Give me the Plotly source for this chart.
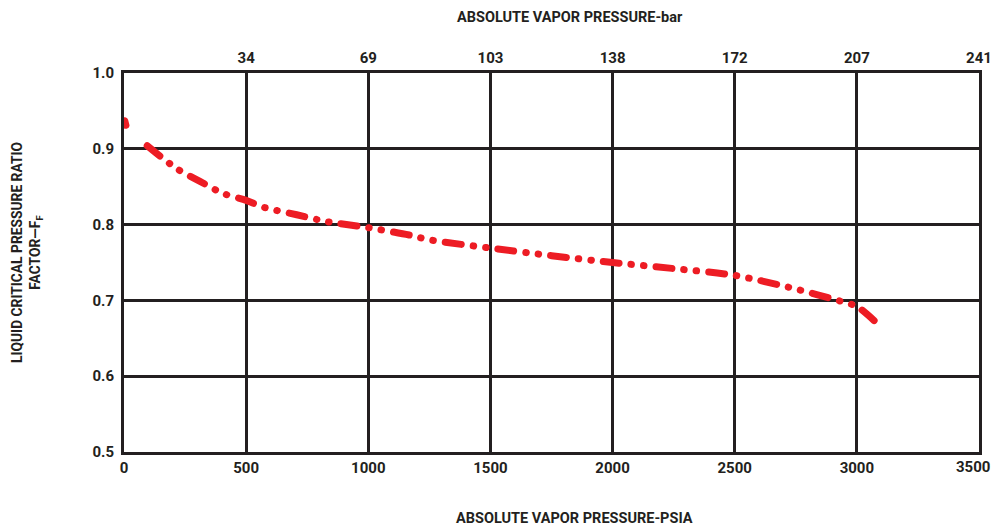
import plotly.graph_objects as go

# Main curve (absolute vapor pressure in psia vs F_F)
psia = [95, 215, 311, 407, 500, 570, 707, 829, 1000, 1171, 1250, 1500, 1750,
        2000, 2250, 2500, 2750, 2943, 3000, 3095]
ff = [0.904, 0.874, 0.857, 0.841, 0.832, 0.823, 0.813, 0.804, 0.796, 0.786, 0.780,
      0.769, 0.759, 0.750, 0.742, 0.733, 0.715, 0.698, 0.692, 0.666]

# Isolated start mark near the y axis
start_psia = [3, 8]
start_ff = [0.937, 0.931]

x_ticks = [0, 500, 1000, 1500, 2000, 2500, 3000, 3500]
bar_tickvals = [500, 1000, 1500, 2000, 2500, 3000, 3500]
bar_ticktext = ["34", "69", "103", "138", "172", "207", "241"]
y_ticks = [0.5, 0.6, 0.7, 0.8, 0.9, 1.0]

RED = "#ED1C24"
DARK = "#231F20"
TICKFONT = "Roboto, Liberation Sans, sans-serif"
TITLEFONT = "Roboto, Liberation Sans, sans-serif"

tickfont = dict(family=TICKFONT, size=15, color=DARK, weight="bold")

# last bottom label is placed as an annotation so it stays inside the page
x_ticktext = [str(v) for v in x_ticks[:-1]] + [""]

fig = go.Figure()
fig.add_trace(go.Scatter(
    x=psia, y=ff, mode="lines",
    line=dict(color=RED, width=7, shape="spline", smoothing=0.8,
              dash="16px,12px,0.5px,12px,0.5px,12px"),
    hoverinfo="skip", showlegend=False))
fig.add_trace(go.Scatter(
    x=start_psia, y=start_ff, mode="lines",
    line=dict(color=RED, width=7),
    hoverinfo="skip", showlegend=False))
# invisible trace on top axis
fig.add_trace(go.Scatter(x=[0, 3500], y=[0.5, 0.5], xaxis="x2", mode="lines",
                         line=dict(width=0), opacity=0, hoverinfo="skip",
                         showlegend=False))

fig.update_layout(
    width=994, height=527,
    margin=dict(l=124, r=15, t=73, b=75, autoexpand=False),
    paper_bgcolor="white", plot_bgcolor="white",
    font=dict(family=TICKFONT, color=DARK),
    xaxis=dict(range=[0, 3500], tickvals=x_ticks, ticktext=x_ticktext,
               showgrid=True, gridcolor=DARK, gridwidth=2.5,
               showline=True, linecolor=DARK, linewidth=3, mirror=True,
               ticks="", zeroline=False, automargin=False,
               ticklabeloverflow="allow",
               ticklabelstandoff=0, tickfont=tickfont),
    xaxis2=dict(range=[0, 3500], overlaying="x", side="top",
                tickvals=bar_tickvals, ticktext=bar_ticktext,
                showgrid=False, showline=False, ticks="", zeroline=False,
                automargin=False, ticklabeloverflow="allow",
                ticklabelstandoff=6, tickfont=tickfont),
    yaxis=dict(range=[0.5, 1.0], tickvals=y_ticks, tickformat=".1f",
               showgrid=True, gridcolor=DARK, gridwidth=2.5,
               showline=True, linecolor=DARK, linewidth=3, mirror=True,
               ticks="", zeroline=False, automargin=False,
               ticklabelstandoff=4, tickfont=tickfont),
    annotations=[
        dict(text=str(x_ticks[-1]), xref="x", yref="paper",
             x=x_ticks[-1], y=0, xanchor="right", yanchor="middle",
             xshift=13, yshift=-15, showarrow=False,
             font=tickfont),
        dict(text="<b>ABSOLUTE VAPOR PRESSURE-bar</b>", xref="paper", yref="paper",
             x=(570 - 124) / 855, y=1, yshift=56, showarrow=False,
             xanchor="center", yanchor="middle",
             font=dict(family=TITLEFONT, size=14.5, color=DARK)),
        dict(text="<b>ABSOLUTE VAPOR PRESSURE-PSIA</b>", xref="paper", yref="paper",
             x=(574 - 124) / 855, y=0, yshift=-66, showarrow=False,
             xanchor="center", yanchor="middle",
             font=dict(family=TITLEFONT, size=14.5, color=DARK)),
        dict(text="<b>LIQUID CRITICAL PRESSURE RATIO<br>FACTOR—F<sub>F</sub></b>",
             xref="paper", yref="paper", x=0, xshift=-97, y=(452 - 253) / 379,
             xanchor="center", yanchor="middle",
             textangle=-90, showarrow=False,
             font=dict(family=TITLEFONT, size=13.8, color=DARK)),
    ],
)

fig.write_html("out.html", config={"displayModeBar": False},
               post_script="document.body.style.margin='0';document.querySelectorAll('.js-line').forEach(function(p){p.style.strokeLinecap='round';});")
